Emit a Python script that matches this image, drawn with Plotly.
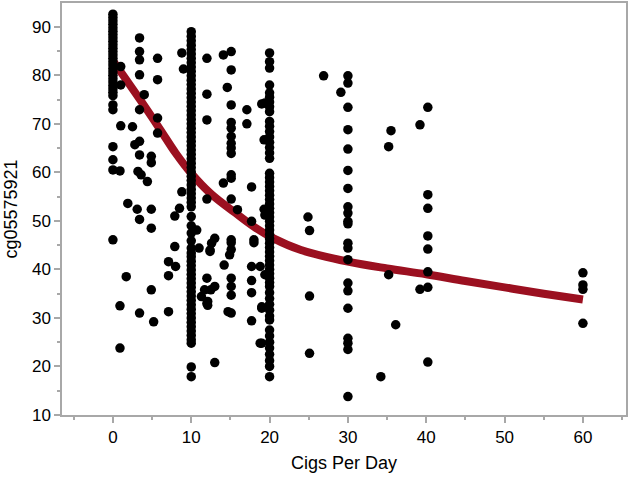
import plotly.graph_objects as go

# ---- data ----
# smokers reporting 0 cigs/day
y_at_0 = [92.6, 91.9, 91.2, 90.5, 89.8, 89.1, 88.4, 87.7, 87.0, 86.3, 85.6, 84.9, 84.2,
          83.5, 82.8, 82.1, 81.4, 80.7, 80.0, 79.3, 78.6, 77.9, 77.2, 76.5, 75.8, 73.9,
          72.9, 65.3, 62.6, 60.5, 46.1]
# scattered points between 0 and 10
x_0_10 = [0.9, 1.0, 1.0, 1.0, 2.5, 3.4, 3.4, 3.4, 3.4, 4.0, 3.4, 5.7, 5.7, 5.7, 5.7, 2.8,
          3.4, 3.4, 4.9, 4.9, 3.2, 3.6, 4.4, 1.9, 3.1, 4.9, 3.4, 4.9, 1.7, 4.9, 0.9, 3.4,
          5.2, 0.9, 8.8, 9.0, 8.8, 8.5, 7.9, 7.9, 7.1, 7.1, 8.0, 7.1]
y_0_10 = [60.3, 81.8, 78.0, 69.6, 69.4, 87.7, 84.9, 83.2, 80.1, 76.0, 72.9, 83.5, 79.1,
          71.2, 68.1, 65.7, 66.4, 63.6, 63.3, 62.0, 60.2, 59.5, 58.1, 53.6, 52.4, 52.4,
          50.3, 48.5, 38.5, 35.8, 32.5, 31.0, 29.2, 23.8, 84.6, 81.3, 56.0, 52.6, 51.0,
          44.7, 41.6, 38.7, 40.6, 31.3]
# smokers reporting 10 cigs/day
y_at_10 = [89.0, 88.0, 87.1, 86.2, 85.3, 84.4, 83.5, 82.6, 81.7, 80.8, 79.9, 79.0, 78.1,
           77.2, 76.3, 75.4, 74.5, 73.6, 72.7, 71.8, 70.9, 70.0, 69.1, 68.2, 67.3, 66.4,
           65.5, 64.6, 63.7, 62.8, 61.9, 61.0, 60.1, 59.2, 58.3, 57.4, 56.5, 55.6, 54.7,
           53.8, 52.9, 50.9, 49.0, 47.5, 45.9, 44.4, 43.4, 42.6, 41.7, 40.8, 39.9, 39.0,
           38.1, 37.2, 36.3, 35.4, 34.5, 33.6, 32.7, 31.8, 30.9, 30.0, 29.1, 28.2, 27.3,
           26.4, 25.5, 24.8, 19.9, 17.9]
# scattered points between 10 and 20
x_10_20 = [12.0, 12.0, 12.0, 12.0, 10.7, 11.0, 12.4, 12.0, 11.3, 11.7, 12.0, 14.1, 15.1,
           15.1, 14.6, 15.1, 15.1, 15.1, 15.1, 15.1, 15.1, 15.1, 17.1, 17.1, 19.0, 19.3,
           14.1, 15.1, 15.1, 15.1, 15.9, 17.7, 17.7, 18.0, 18.0, 19.3, 13.0, 12.6, 12.4,
           15.1, 15.1, 15.1, 14.9, 14.2, 13.0, 12.5, 12.1, 12.1, 15.1, 15.1, 15.1, 15.1,
           14.7, 17.7, 17.7, 17.7, 17.7, 18.8, 19.0, 19.0, 13.0, 19.4, 19.4, 19.4, 19.0,
           18.8]
y_10_20 = [83.5, 76.1, 70.8, 54.5, 48.1, 44.4, 43.7, 38.2, 34.4, 35.8, 33.0, 84.2, 84.9,
           81.1, 77.5, 73.9, 70.3, 69.1, 67.4, 66.0, 65.0, 63.9, 72.9, 70.0, 74.1, 66.7,
           57.8, 59.5, 58.8, 54.5, 52.3, 57.0, 49.9, 46.1, 45.5, 52.4, 46.4, 45.4, 44.0,
           46.1, 45.5, 44.1, 43.0, 40.9, 36.5, 35.8, 33.4, 32.6, 38.2, 36.5, 34.7, 31.0,
           31.3, 40.6, 37.7, 35.2, 29.4, 40.6, 32.3, 24.8, 20.8, 74.3, 51.2, 38.9, 32.0,
           24.8]
# smokers reporting 20 cigs/day
y_at_20 = [84.6, 82.8, 81.5, 78.0, 76.4, 75.5, 74.5, 73.5, 72.5, 70.5, 69.5, 68.4, 67.3,
           66.2, 65.1, 64.0, 62.9, 59.8, 58.9, 58.0, 57.1, 56.2, 55.3, 54.4, 53.5, 52.6,
           51.7, 50.8, 49.9, 49.0, 48.1, 47.2, 46.3, 45.4, 44.5, 43.6, 42.7, 41.8, 40.9,
           40.0, 39.1, 38.2, 37.3, 36.5, 35.2, 34.0, 32.8, 31.6, 30.4, 29.6, 27.5, 26.3,
           25.0, 23.8, 22.5, 21.2, 20.0, 17.9]
# smokers reporting 30 cigs/day
y_at_30 = [79.9, 78.4, 73.4, 68.8, 64.8, 60.4, 56.7, 52.9, 51.6, 49.9, 49.4, 45.4, 44.4,
           42.0, 37.2, 35.6, 32.0, 25.8, 24.8, 23.5, 13.8]
# remaining heavier smokers
x_heavy = [26.9, 29.1, 24.9, 25.1, 25.1, 25.1, 35.5, 35.2, 35.2, 36.1, 34.2, 39.2, 40.2,
           40.2, 40.2, 40.2, 40.2, 40.2, 40.2, 39.2, 40.2, 60.0, 60.0, 60.0, 60.0]
y_heavy = [79.9, 76.5, 50.8, 48.0, 34.5, 22.7, 68.6, 65.3, 38.9, 28.6, 17.9, 69.8, 73.4,
           55.4, 52.6, 46.9, 44.2, 39.5, 36.3, 35.9, 20.9, 39.3, 36.8, 35.9, 28.9]

# fitted curve
fit_x = [0, 3.5, 6, 8, 10, 12.5, 15.5, 18, 20.5, 24, 30, 35, 40, 45, 50, 55, 60]
fit_y = [83.0, 74.9, 68.9, 64.0, 59.8, 55.6, 51.8, 48.8, 46.4, 44.0, 41.6, 40.2, 39.0,
         37.6, 36.3, 35.0, 33.8]

x_all = ([0] * len(y_at_0) + x_0_10 + [10] * len(y_at_10) + x_10_20 +
         [20] * len(y_at_20) + [30] * len(y_at_30) + x_heavy)
y_all = y_at_0 + y_0_10 + y_at_10 + y_10_20 + y_at_20 + y_at_30 + y_heavy

FONT = "Liberation Sans, Arial, Helvetica"

fig = go.Figure()
fig.add_trace(go.Scatter(x=fit_x, y=fit_y, mode="lines",
                         line=dict(color="#9B1020", width=8, shape="spline", smoothing=1.0),
                         showlegend=False, hoverinfo="skip"))
fig.add_trace(go.Scatter(x=x_all, y=y_all, mode="markers",
                         marker=dict(color="black", size=9.5),
                         showlegend=False))

axis_common = dict(showline=True, linecolor="#A8A8A8", linewidth=1.5, mirror=True,
                   showgrid=False, zeroline=False, ticks="outside", ticklen=6,
                   tickcolor="#A8A8A8", tickwidth=1.5, automargin=False,
                   tickfont=dict(size=17, color="black", family=FONT),
                   minor=dict(ticks="outside", ticklen=3, tickcolor="#A8A8A8", tickwidth=1.5,
                              showgrid=False))

fig.update_xaxes(range=[-6.5, 65.5], tickvals=[0, 10, 20, 30, 40, 50, 60],
                 title=dict(text="Cigs Per Day", font=dict(size=18, color="black", family=FONT),
                            standoff=10),
                 **axis_common)
fig.update_xaxes(minor_dtick=5)
fig.update_yaxes(range=[10, 94.9], tickvals=[10, 20, 30, 40, 50, 60, 70, 80, 90],
                 title=dict(text="cg05575921", font=dict(size=18, color="black", family=FONT),
                            standoff=10),
                 **axis_common)
fig.update_yaxes(minor_dtick=5)

fig.update_layout(width=629, height=482, plot_bgcolor="white", paper_bgcolor="white",
                  margin=dict(l=62, r=3, t=3, b=67),
                  font=dict(family=FONT, color="black"))

fig.write_html("out.html", config={"displayModeBar": False},
               post_script="document.body.style.margin='0';document.body.style.padding='0';")
